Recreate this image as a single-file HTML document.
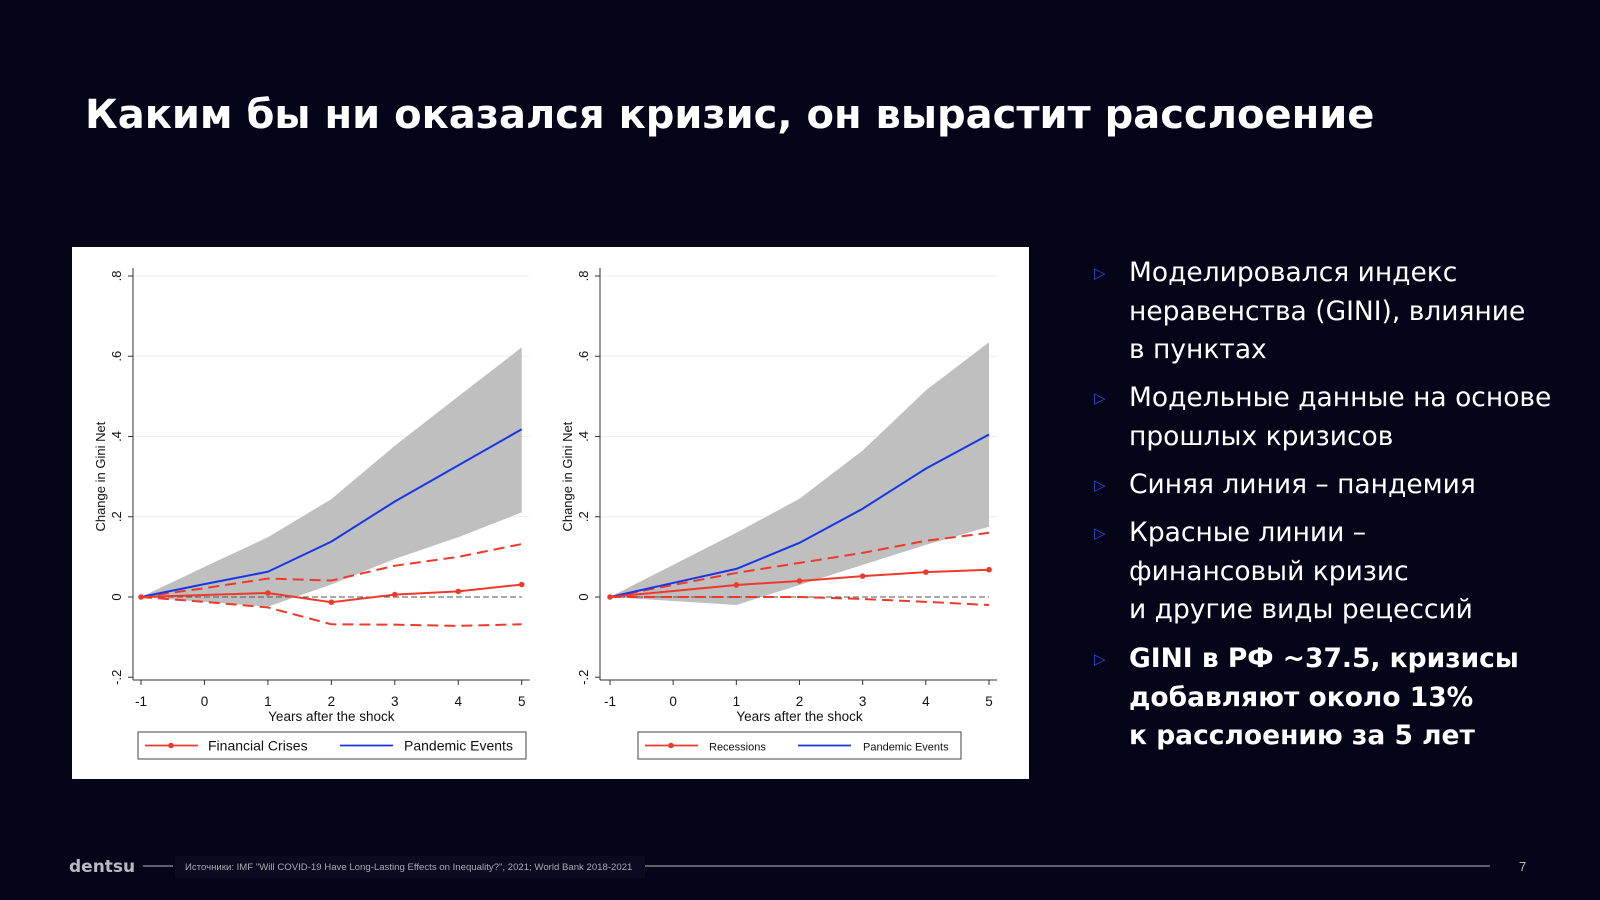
<!DOCTYPE html>
<html><head><meta charset="utf-8">
<style>
html,body{margin:0;padding:0;background:#05051a;}
body{width:1600px;height:900px;position:relative;overflow:hidden;font-family:"Liberation Sans","Noto Sans CJK SC",sans-serif;}
#title{position:absolute;left:85px;top:92px;color:#fff;font-family:"DejaVu Sans","Liberation Sans",sans-serif;font-weight:bold;font-size:40px;margin:0;white-space:nowrap}
#panel{position:absolute;left:72px;top:247px;width:957px;height:532px;background:#fff}
.bl{position:absolute;left:1098px;color:#fff;font-family:"DejaVu Sans","Liberation Sans",sans-serif;font-size:26.5px;line-height:38.5px;width:520px}
.bl .tri{position:absolute;left:-4px;top:0;color:#2c4bd8;font-size:15px}
.bl .t{margin-left:31px}
#foot{position:absolute;left:0;top:850px;width:1600px;height:30px}
</style></head><body>
<h1 id="title">Каким бы ни оказался кризис, он вырастит расслоение</h1>
<div id="panel">
<svg id="svg" width="957" height="532" style="position:absolute;left:-72px;top:-247px;overflow:visible" viewBox="0 0 957 532"></svg>
</div>

<div class="bl" style="top:254px"><span class="tri">▷</span><div class="t">Моделировался индекс неравенства (GINI), влияние в&nbsp;пунктах</div></div>
<div class="bl" style="top:379px"><span class="tri">▷</span><div class="t">Модельные данные на основе прошлых кризисов</div></div>
<div class="bl" style="top:466px"><span class="tri">▷</span><div class="t">Синяя линия – пандемия</div></div>
<div class="bl" style="top:514px"><span class="tri">▷</span><div class="t">Красные линии –<br>финансовый кризис<br>и другие виды рецессий</div></div>
<div class="bl" style="top:640px;font-weight:bold"><span class="tri" style="font-weight:normal">▷</span><div class="t">GINI в РФ ~37.5, кризисы добавляют около 13%<br>к расслоению за 5 лет</div></div>

<svg id="foot" width="1600" height="30" viewBox="0 850 1600 30">
<text x="69" y="872" fill="#b9b9c4" font-family="DejaVu Sans, Liberation Sans, sans-serif" font-weight="bold" font-size="17">dentsu</text>
<line x1="143" y1="866" x2="173" y2="866" stroke="#bbb" stroke-width="1"/>
<rect x="175" y="856" width="470" height="22" fill="#0a0a20"/>
<text x="185" y="870" fill="#a9a9b4" font-size="9.6" font-family="Liberation Sans, Noto Sans CJK SC, sans-serif">Источники: IMF "Will COVID-19 Have Long-Lasting Effects on Inequality?", 2021; World Bank 2018-2021</text>
<line x1="645" y1="866" x2="1490" y2="866" stroke="#bbb" stroke-width="1"/>
<text x="1519" y="871" fill="#bbb" font-size="13">7</text>
</svg>

<script>
// chart 1 data (Financial Crises vs Pandemic)
const years = [-1,0,1,2,3,4,5];
const yTicks = [-0.2,0,0.2,0.4,0.6,0.8];
const yTickLabels = ["-.2","0",".2",".4",".6",".8"];
const c1Blue = [0,0.032,0.063,0.138,0.238,0.328,0.418];
const c1BandUp = [0,0.075,0.149,0.244,0.377,0.50,0.622];
const c1BandLo = [0,-0.012,-0.024,0.031,0.095,0.149,0.211];
const c1Red = [0,0.005,0.010,-0.013,0.006,0.014,0.031];
const c1RedUp = [0,0.022,0.046,0.041,0.078,0.100,0.132];
const c1RedLo = [0,-0.012,-0.026,-0.068,-0.069,-0.072,-0.068];
// chart 2 data (Recessions vs Pandemic)
const c2Blue = [0,0.035,0.070,0.135,0.220,0.320,0.405];
const c2BandUp = [0,0.08,0.160,0.245,0.365,0.515,0.635];
const c2BandLo = [0,-0.01,-0.020,0.030,0.080,0.130,0.175];
const c2Red = [0,0.015,0.030,0.040,0.052,0.062,0.068];
const c2RedUp = [0,0.030,0.060,0.085,0.110,0.140,0.160];
const c2RedLo = [0,0,0,0,-0.005,-0.012,-0.020];
const legend1 = ["Financial Crises","Pandemic Events"];
const legend2 = ["Recessions","Pandemic Events"];

const NS="http://www.w3.org/2000/svg";
const svg=document.getElementById('svg');
function mk(tag,attrs,parent){const e=document.createElementNS(NS,tag);for(const k in attrs)e.setAttribute(k,attrs[k]);(parent||svg).appendChild(e);return e;}

function drawChart(o){
  const g=mk('g',{});
  
  
  const xs=v=>o.x0+(v-(-1))*(o.x1-o.x0)/6;
  const ys=v=>o.y0-v*(o.y0-o.y8)/0.8;
  yTicks.forEach((t,i)=>{
    if(t>0){const l=mk('line',{x1:o.ax,x2:o.x1+8,y1:ys(t),y2:ys(t),stroke:'#e8eef2','stroke-width':1},g);
    }
  });
  let pts=years.map((y,i)=>xs(y)+','+ys(o.bu[i])).concat(years.slice().reverse().map((y,j)=>{const i=years.length-1-j;return xs(y)+','+ys(o.bl[i]);}));
  const band=mk('polygon',{points:pts.join(' '),fill:'#bfbfbf'},g);
  
  const z=mk('line',{x1:xs(-1),x2:o.x1,y1:ys(0),y2:ys(0),stroke:'#555','stroke-width':1,'stroke-dasharray':'6,3'},g);
  
  const path=arr=>years.map((y,i)=>xs(y)+','+ys(arr[i])).join(' ');
  const ru=mk('polyline',{points:path(o.ru),fill:'none',stroke:'#ee3a2c','stroke-width':2,'stroke-dasharray':'11,6'},g);
  
  const rl=mk('polyline',{points:path(o.rl),fill:'none',stroke:'#ee3a2c','stroke-width':2,'stroke-dasharray':'11,6'},g);
  
  const bl=mk('polyline',{points:path(o.blue),fill:'none',stroke:'#1736e6','stroke-width':2},g);
  
  const rd=mk('polyline',{points:path(o.red),fill:'none',stroke:'#ee3a2c','stroke-width':2},g);
  
  years.forEach((y,i)=>{ if(y===0) return;
    const c=mk('circle',{cx:xs(y),cy:ys(o.red[i]),r:2.8,fill:'#ee3a2c'},g);
    });
  const ya=mk('line',{x1:o.ax,x2:o.ax,y1:ys(0.8)-8,y2:o.ay,stroke:'#333','stroke-width':1},g);
  
  const xa=mk('line',{x1:o.ax,x2:o.x1+8,y1:o.ay,y2:o.ay,stroke:'#333','stroke-width':1},g);
  
  yTicks.forEach((t,i)=>{
    mk('line',{x1:o.ax-5,x2:o.ax,y1:ys(t),y2:ys(t),stroke:'#333'},g);
    const tx=mk('text',{x:0,y:0,transform:`translate(${o.ax-12},${ys(t)}) rotate(-90)`,'text-anchor':'middle','font-size':13,fill:'#111'},g);
    tx.textContent=yTickLabels[i];
    
  });
  years.forEach(y=>{
    mk('line',{x1:xs(y),x2:xs(y),y1:o.ay,y2:o.ay+5,stroke:'#333'},g);
    const tx=mk('text',{x:xs(y),y:o.ay+26,'text-anchor':'middle','font-size':13.5,fill:'#111'},g);
    tx.textContent=String(y);
    
  });
  const xt=mk('text',{x:(o.x0+o.x1)/2,y:o.ay+41,'text-anchor':'middle','font-size':13.5,fill:'#111'},g);
  xt.textContent='Years after the shock';
  
  const yt=mk('text',{x:0,y:0,transform:`translate(${o.ax-28},${ys(0.3)}) rotate(-90)`,'text-anchor':'middle','font-size':13,fill:'#111'},g);
  yt.textContent='Change in Gini Net';
  
  const lg=mk('g',{},g);
  
  mk('rect',{x:o.lx,y:732,width:o.lw,height:27,fill:'#fff',stroke:'#444','stroke-width':1},lg);
  const my=745.5;
  mk('line',{x1:o.lx+7,x2:o.lx+60,y1:my,y2:my,stroke:'#ee3a2c','stroke-width':1.8},lg);
  mk('circle',{cx:o.lx+33,cy:my,r:2.8,fill:'#ee3a2c'},lg);
  const t1=mk('text',{x:o.lx+o.t1,y:my+5,'font-size':o.fs,fill:'#111'},lg);t1.textContent=o.leg[0];
  
  mk('line',{x1:o.lx+o.l2,x2:o.lx+o.l2+53,y1:my,y2:my,stroke:'#1736e6','stroke-width':1.8},lg);
  const t2=mk('text',{x:o.lx+o.t2,y:my+5,'font-size':o.fs,fill:'#111'},lg);t2.textContent=o.leg[1];
  
}
drawChart({name:'chart-financial-crises',x0:141,x1:521.7,ax:133,ay:680,y0:597,y8:276,
  blue:c1Blue,bu:c1BandUp,bl:c1BandLo,red:c1Red,ru:c1RedUp,rl:c1RedLo,
  lx:138,lw:388,leg:legend1,t1:70,l2:202,t2:266,fs:14});
drawChart({name:'chart-recessions',x0:610,x1:989,ax:600,ay:680,y0:597,y8:276,
  blue:c2Blue,bu:c2BandUp,bl:c2BandLo,red:c2Red,ru:c2RedUp,rl:c2RedLo,
  lx:638,lw:323,leg:legend2,t1:71,l2:160,t2:225,fs:11});
</script>
</body></html>
